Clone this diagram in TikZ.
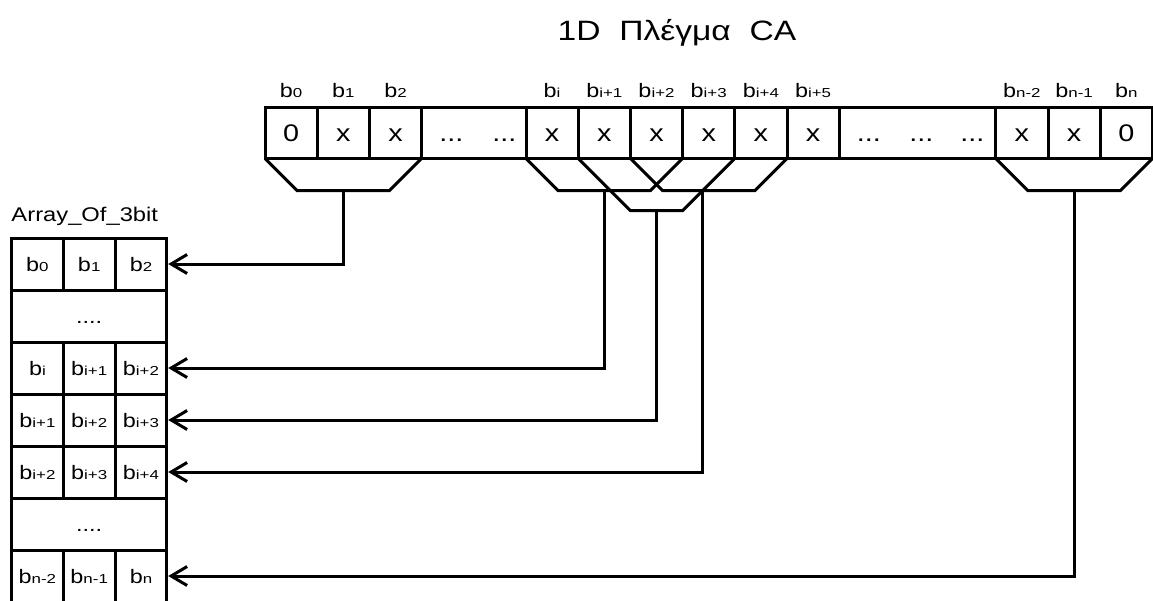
\documentclass[tikz,border=0pt]{standalone}
\usepackage{fontspec}
\setmainfont{Liberation Sans}[FakeStretch=1.2]
\newfontfamily\idxfont{Liberation Sans}[FakeStretch=1.3]
\usetikzlibrary{arrows.meta,positioning}

% bit name with a small index on the baseline
\newcommand{\bitlbl}[1]{b{\idxfont\fontsize{13}{13}\selectfont #1}}

\begin{document}
\begin{tikzpicture}[
  x=1pt, y=-1pt,
  cell/.style={draw, line width=3pt, minimum width=52.2pt, minimum height=51.5pt, inner sep=0pt, outer sep=0pt, text height=17.5pt, text depth=0pt, font=\fontsize{24}{24}\selectfont},
  acell/.style={draw, line width=3pt, minimum width=51.8pt, minimum height=52pt, inner sep=0pt, outer sep=0pt, text height=14pt, text depth=0pt, font=\fontsize{19.5}{20}\selectfont},
  lbl/.style={inner sep=0pt, outer sep=0pt, text depth=0pt, font=\fontsize{19.5}{20}\selectfont},
  fun/.style={line width=3pt, line join=miter},
  arr/.style={-{Straight Barb[length=16pt,width=19pt]}, line width=3pt, shorten >=1.3pt},
  node distance=0pt
]
\useasboundingbox (0,0) rectangle (1153,600);
\clip (0,0) rectangle (1153,600);

\node[font=\fontsize{28}{28}\selectfont, anchor=base] (title) at (677,40) {1D~~Πλέγμα~~CA};

% the 1D lattice
\node[cell] (b0) at (291.1,132.75) {0};
\node[cell, right=of b0] (b1) {x};
\node[cell, right=of b1] (b2) {x};
\node[cell, minimum width=104.4pt, right=of b2] (gapl) {\hspace{8pt}...\hspace{29pt}...};
\node[cell, right=of gapl] (bi) {x};
\node[cell, right=of bi] (bi1) {x};
\node[cell, right=of bi1] (bi2) {x};
\node[cell, right=of bi2] (bi3) {x};
\node[cell, right=of bi3] (bi4) {x};
\node[cell, right=of bi4] (bi5) {x};
\node[cell, minimum width=156.6pt, right=of bi5] (gapr) {\hspace{6pt}...\hspace{28.5pt}...\hspace{27pt}...};
\node[cell, right=of gapr] (bn2) {x};
\node[cell, right=of bn2] (bn1) {x};
\node[cell, right=of bn1] (bn) {0};

\node[lbl, above=10pt of b0] (l0) {\bitlbl{0}};
\node[lbl, above=10pt of b1] (l1) {\bitlbl{1}};
\node[lbl, above=10pt of b2] (l2) {\bitlbl{2}};
\node[lbl, above=10pt of bi] (li) {\bitlbl{i}};
\node[lbl, above=10pt of bi1] (li1) {\bitlbl{i+1}};
\node[lbl, above=10pt of bi2] (li2) {\bitlbl{i+2}};
\node[lbl, above=10pt of bi3] (li3) {\bitlbl{i+3}};
\node[lbl, above=10pt of bi4] (li4) {\bitlbl{i+4}};
\node[lbl, above=10pt of bi5] (li5) {\bitlbl{i+5}};
\node[lbl, above=10pt of bn2] (ln2) {\bitlbl{n-2}};
\node[lbl, above=10pt of bn1] (ln1) {\bitlbl{n-1}};
\node[lbl, above=10pt of bn] (ln) {\bitlbl{n}};

% neighbourhoods of three cells
\draw[fun] (b0.south west) -- ++(32,32) -- ([xshift=-32pt,yshift=-32pt]b2.south east) -- (b2.south east);
\draw[fun] (bi.south west) -- ++(32,32) -- ([xshift=-32pt,yshift=-32pt]bi2.south east) -- (bi2.south east);
\draw[fun] (bi1.south west) -- ++(52,52) -- ([xshift=-52pt,yshift=-52pt]bi3.south east) -- (bi3.south east);
\draw[fun] (bi2.south west) -- ++(32,32) -- ([xshift=-32pt,yshift=-32pt]bi4.south east) -- (bi4.south east);
\draw[fun] (bn2.south west) -- ++(32,32) -- ([xshift=-32pt,yshift=-32pt]bn.south east) -- (bn.south east);

% array of 3-bit words
\node[acell] (a00) at (37.4,264) {\bitlbl{0}};
\node[acell, right=of a00] (a01) {\bitlbl{1}};
\node[acell, right=of a01] (a02) {\bitlbl{2}};
\node[acell, minimum width=155.4pt, below=of a01] (a1) {....};
\node[acell, below=of a1] (a21) {\bitlbl{i+1}};
\node[acell, left=of a21] (a20) {\bitlbl{i}};
\node[acell, right=of a21] (a22) {\bitlbl{i+2}};
\node[acell, below=of a21] (a31) {\bitlbl{i+2}};
\node[acell, left=of a31] (a30) {\bitlbl{i+1}};
\node[acell, right=of a31] (a32) {\bitlbl{i+3}};
\node[acell, below=of a31] (a41) {\bitlbl{i+3}};
\node[acell, left=of a41] (a40) {\bitlbl{i+2}};
\node[acell, right=of a41] (a42) {\bitlbl{i+4}};
\node[acell, minimum width=155.4pt, below=of a41] (a5) {....};
\node[acell, below=of a5] (a61) {\bitlbl{n-1}};
\node[acell, left=of a61] (a60) {\bitlbl{n-2}};
\node[acell, right=of a61] (a62) {\bitlbl{n}};
\node[lbl, font=\fontsize{19.8}{21}\selectfont, anchor=base west] (arrtitle) at ([yshift=17pt]a00.north west) {Array\_Of\_3bit};

\draw[arr] ([yshift=-32pt]b1.south) |- (a02.east);
\draw[arr] ([yshift=-32pt]bi1.south) |- (a22.east);
\draw[arr] ([yshift=-52pt]bi2.south) |- (a32.east);
\draw[arr] ([xshift=-32pt,yshift=-32pt]bi3.south east) |- (a42.east);
\draw[arr] ([yshift=-32pt]bn1.south) |- (a62.east);
\end{tikzpicture}
\end{document}
